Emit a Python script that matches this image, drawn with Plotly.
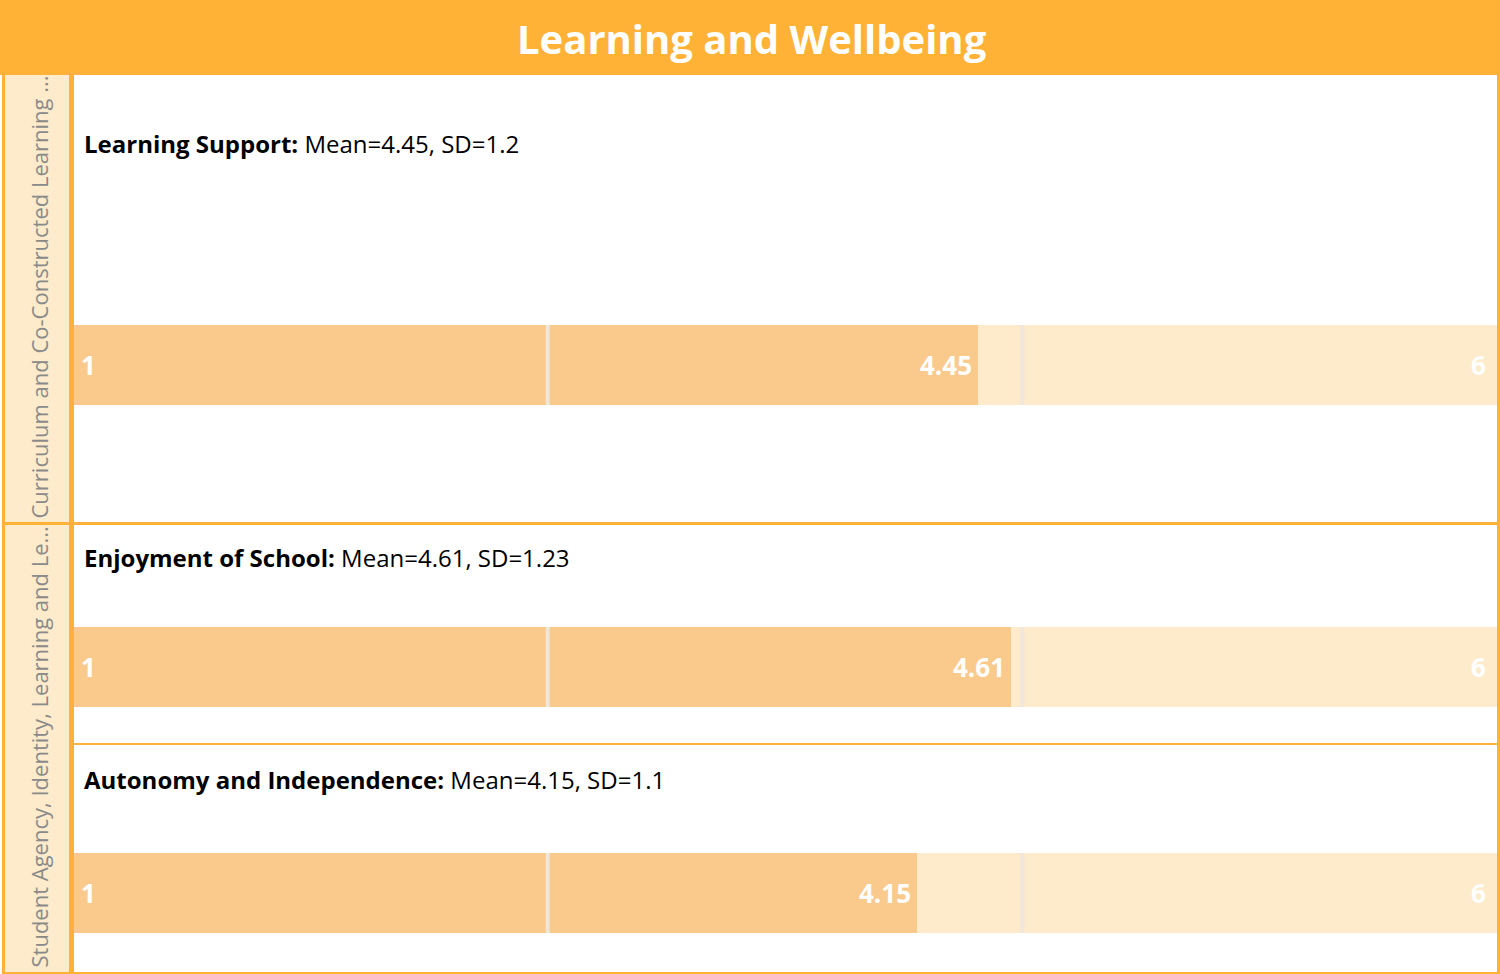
import plotly.graph_objects as go

# data
groups = ["Curriculum and Co-Constructed Learning ...",
          "Student Agency, Identity, Learning and Le..."]
items = ["Learning Support", "Enjoyment of School", "Autonomy and Independence"]
item_group = [0, 1, 1]
means = [4.45, 4.61, 4.15]
sds = [1.2, 1.23, 1.1]
scale_min = 1
scale_max = 6
axis_max = 7

W, H = 1500, 974
orange = '#FFB236'
cream = '#FDEBCB'
dark = '#F9CA8C'
divider = '#F0E6DA'
font = 'Open Sans'

def py(p):
    # pixel from top -> paper y
    return 1 - p / H

def px(p):
    return p / W

# layout boxes in pixels (top, bottom)
bar_px = [(325, 405), (627, 707), (853, 933)]
label_px = [144, 557, 779]
group_px = [(75, 523), (523, 972)]

fig = go.Figure()
shapes = []
annotations = []

for i in range(len(items)):
    n = '' if i == 0 else str(i + 1)
    xa, ya = 'x' + n, 'y' + n
    fig.add_trace(go.Bar(y=[0], x=[axis_max], orientation='h', width=1,
                         marker=dict(color=cream, line=dict(width=0)),
                         xaxis=xa, yaxis=ya, hoverinfo='skip', showlegend=False))
    fig.add_trace(go.Bar(y=[0], x=[means[i]], orientation='h', width=1,
                         marker=dict(color=dark, line=dict(width=0)),
                         xaxis=xa, yaxis=ya, showlegend=False))
    top, bot = bar_px[i]
    fig.layout['xaxis' + n] = dict(domain=[px(73), px(1497)], range=[0, axis_max],
                                   visible=False, fixedrange=True, anchor=ya)
    fig.layout['yaxis' + n] = dict(domain=[py(bot), py(top)], range=[-0.5, 0.5],
                                   visible=False, fixedrange=True, anchor=xa)
    for k in (1, 2):
        d = axis_max * k / 3
        shapes.append(dict(type='line', xref=xa, yref=ya + ' domain', x0=d, x1=d, y0=0, y1=1,
                           line=dict(color=divider, width=4), layer='above'))
    numfont = dict(family=font, size=26, color='white')
    annotations += [
        dict(xref=xa, yref=ya + ' domain', x=0, y=0.5, xanchor='left', yanchor='middle',
             xshift=6, text='<b>%d</b>' % scale_min, showarrow=False, font=numfont),
        dict(xref=xa, yref=ya + ' domain', x=means[i], y=0.5, xanchor='right', yanchor='middle',
             xshift=-4, text='<b>%.2f</b>' % means[i], showarrow=False, font=numfont),
        dict(xref=xa, yref=ya + ' domain', x=axis_max, y=0.5, xanchor='right', yanchor='middle',
             xshift=-9, text='<b>%d</b>' % scale_max, showarrow=False, font=numfont),
        dict(xref='paper', yref='paper', x=px(82), y=py(label_px[i]), xanchor='left',
             yanchor='middle', showarrow=False,
             text='<b>%s:</b> Mean=%s, SD=%s' % (items[i], means[i], sds[i]),
             font=dict(family=font, size=24, color='black')),
    ]

# title band
shapes.append(dict(type='rect', xref='paper', yref='paper', x0=0, x1=1, y0=py(75), y1=1,
                   fillcolor=orange, line=dict(width=0), layer='below'))
annotations.append(dict(xref='paper', yref='paper', x=px(752), y=py(39),
                        xanchor='center', yanchor='middle', showarrow=False,
                        text='<b>Learning and Wellbeing</b>',
                        font=dict(family=font, size=40, color='white')))

# group strips
for g, (top, bot) in enumerate(group_px):
    shapes.append(dict(type='rect', xref='paper', yref='paper', x0=px(4), x1=px(71),
                       y0=py(bot), y1=py(top), fillcolor=cream, line=dict(width=0), layer='below'))
    annotations.append(dict(xref='paper', yref='paper', x=px(38), y=py(bot - 2),
                            xanchor='center', yanchor='bottom', textangle=-90, showarrow=False,
                            text=groups[g], font=dict(family=font, size=22, color='#8a8a8a')))

# borders
line = dict(color=orange, width=0)
shapes += [
    dict(type='rect', xref='paper', yref='paper', x0=px(2), x1=px(5), y0=0, y1=py(75), fillcolor=orange, line=line),
    dict(type='rect', xref='paper', yref='paper', x0=px(69), x1=px(74), y0=0, y1=py(75), fillcolor=orange, line=line),
    dict(type='rect', xref='paper', yref='paper', x0=px(1497), x1=1, y0=0, y1=py(75), fillcolor=orange, line=line),
    dict(type='rect', xref='paper', yref='paper', x0=px(2), x1=1, y0=0, y1=py(972), fillcolor=orange, line=line),
    dict(type='rect', xref='paper', yref='paper', x0=px(2), x1=1, y0=py(525), y1=py(522), fillcolor=orange, line=line),
    dict(type='rect', xref='paper', yref='paper', x0=px(74), x1=1, y0=py(745), y1=py(743), fillcolor=orange, line=line),
]

fig.update_layout(width=W, height=H, margin=dict(l=0, r=0, t=0, b=0),
                  paper_bgcolor='white', plot_bgcolor='rgba(0,0,0,0)',
                  barmode='overlay', bargap=0, shapes=shapes, annotations=annotations,
                  font=dict(family=font))
# drop the default page margin so the figure sits at the window origin
fig.write_html("out.html", config={'displayModeBar': False},
               post_script="document.body.style.margin='0';")
